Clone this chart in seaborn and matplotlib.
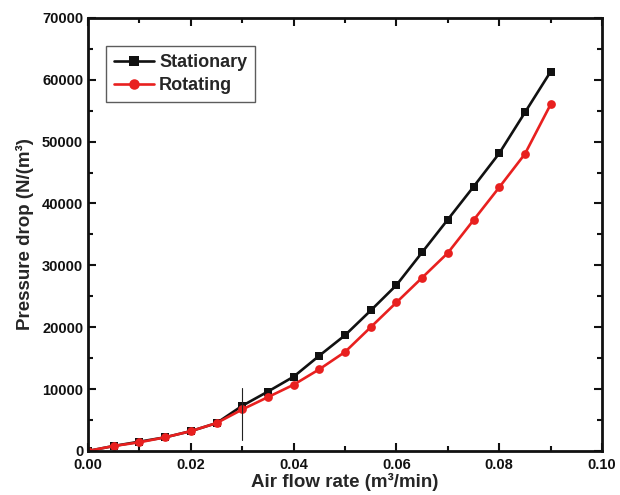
import matplotlib
matplotlib.use("Agg")
import matplotlib.pyplot as plt
import seaborn as sns
import pandas as pd
from matplotlib.ticker import MultipleLocator

flow = [0.0, 0.005, 0.01, 0.015, 0.02, 0.025, 0.03, 0.035, 0.04, 0.045,
        0.05, 0.055, 0.06, 0.065, 0.07, 0.075, 0.08, 0.085, 0.09]
stationary = [0, 800, 1500, 2200, 3200, 4500, 7300, 9600, 12000, 15400,
              18700, 22700, 26800, 32100, 37400, 42700, 48100, 54700, 61300]
rotating = [0, 800, 1400, 2200, 3200, 4500, 6700, 8700, 10700, 13200,
            16000, 20000, 24000, 28000, 32000, 37300, 42600, 48000, 56000]
series_names = ["Stationary", "Rotating"]

df = pd.concat([
    pd.DataFrame({"flow": flow, "dp": stationary, "series": series_names[0]}),
    pd.DataFrame({"flow": flow, "dp": rotating, "series": series_names[1]}),
])

sns.set_theme(style="ticks")
plt.rcParams['font.family'] = ['Liberation Sans', 'DejaVu Sans']
plt.rcParams['font.weight'] = 'bold'

fig = plt.figure(figsize=(6.2, 4.95), dpi=100)
ax = fig.add_axes([0.142, 0.089, 0.829, 0.875])

palette = {"Stationary": "#111111", "Rotating": "#e8201f"}
markers = {"Stationary": "s", "Rotating": "o"}
sns.lineplot(data=df, x="flow", y="dp", hue="series", style="series",
             palette=palette, markers=markers, dashes=False,
             markersize=6.3, linewidth=1.9, markeredgewidth=0, ax=ax)

# stray vertical stroke in the original figure
stroke_x = [0.03, 0.03]
stroke_y = [1800, 10200]
ax.plot(stroke_x, stroke_y, color="#222222", linewidth=0.8)

ax.set_xlim(0, 0.10)
ax.set_ylim(0, 70000)
ax.xaxis.set_major_locator(MultipleLocator(0.02))
ax.xaxis.set_minor_locator(MultipleLocator(0.01))
ax.yaxis.set_major_locator(MultipleLocator(10000))
ax.yaxis.set_minor_locator(MultipleLocator(5000))
ax.xaxis.set_major_formatter(matplotlib.ticker.FormatStrFormatter('%.2f'))
ax.tick_params(which='both', direction='in', top=True, right=True, width=1.5,
               labelsize=10.5, colors='#111111')
ax.tick_params(which='major', length=6)
ax.tick_params(which='minor', length=3.5)
ax.tick_params(axis='x', pad=5)
for lab in ax.get_xticklabels() + ax.get_yticklabels():
    lab.set_fontweight('bold')
for s in ax.spines.values():
    s.set_linewidth(2)
    s.set_color('#111111')

ax.set_xlabel("Air flow rate (m³/min)", fontsize=13.5, fontweight='bold', labelpad=1)
ax.set_ylabel("Pressure drop (N/(m³)", fontsize=13.5, fontweight='bold', labelpad=6)

leg = ax.legend(title=None, loc='upper left', bbox_to_anchor=(0.017, 0.955),
                frameon=True, fancybox=False, edgecolor='#333333',
                handlelength=2.2, handletextpad=0.3, borderpad=0.45, labelspacing=0.3,
                markerscale=1.2, prop={'weight': 'bold', 'size': 13})
leg.get_frame().set_linewidth(1)

fig.savefig("out.png", dpi=100)
